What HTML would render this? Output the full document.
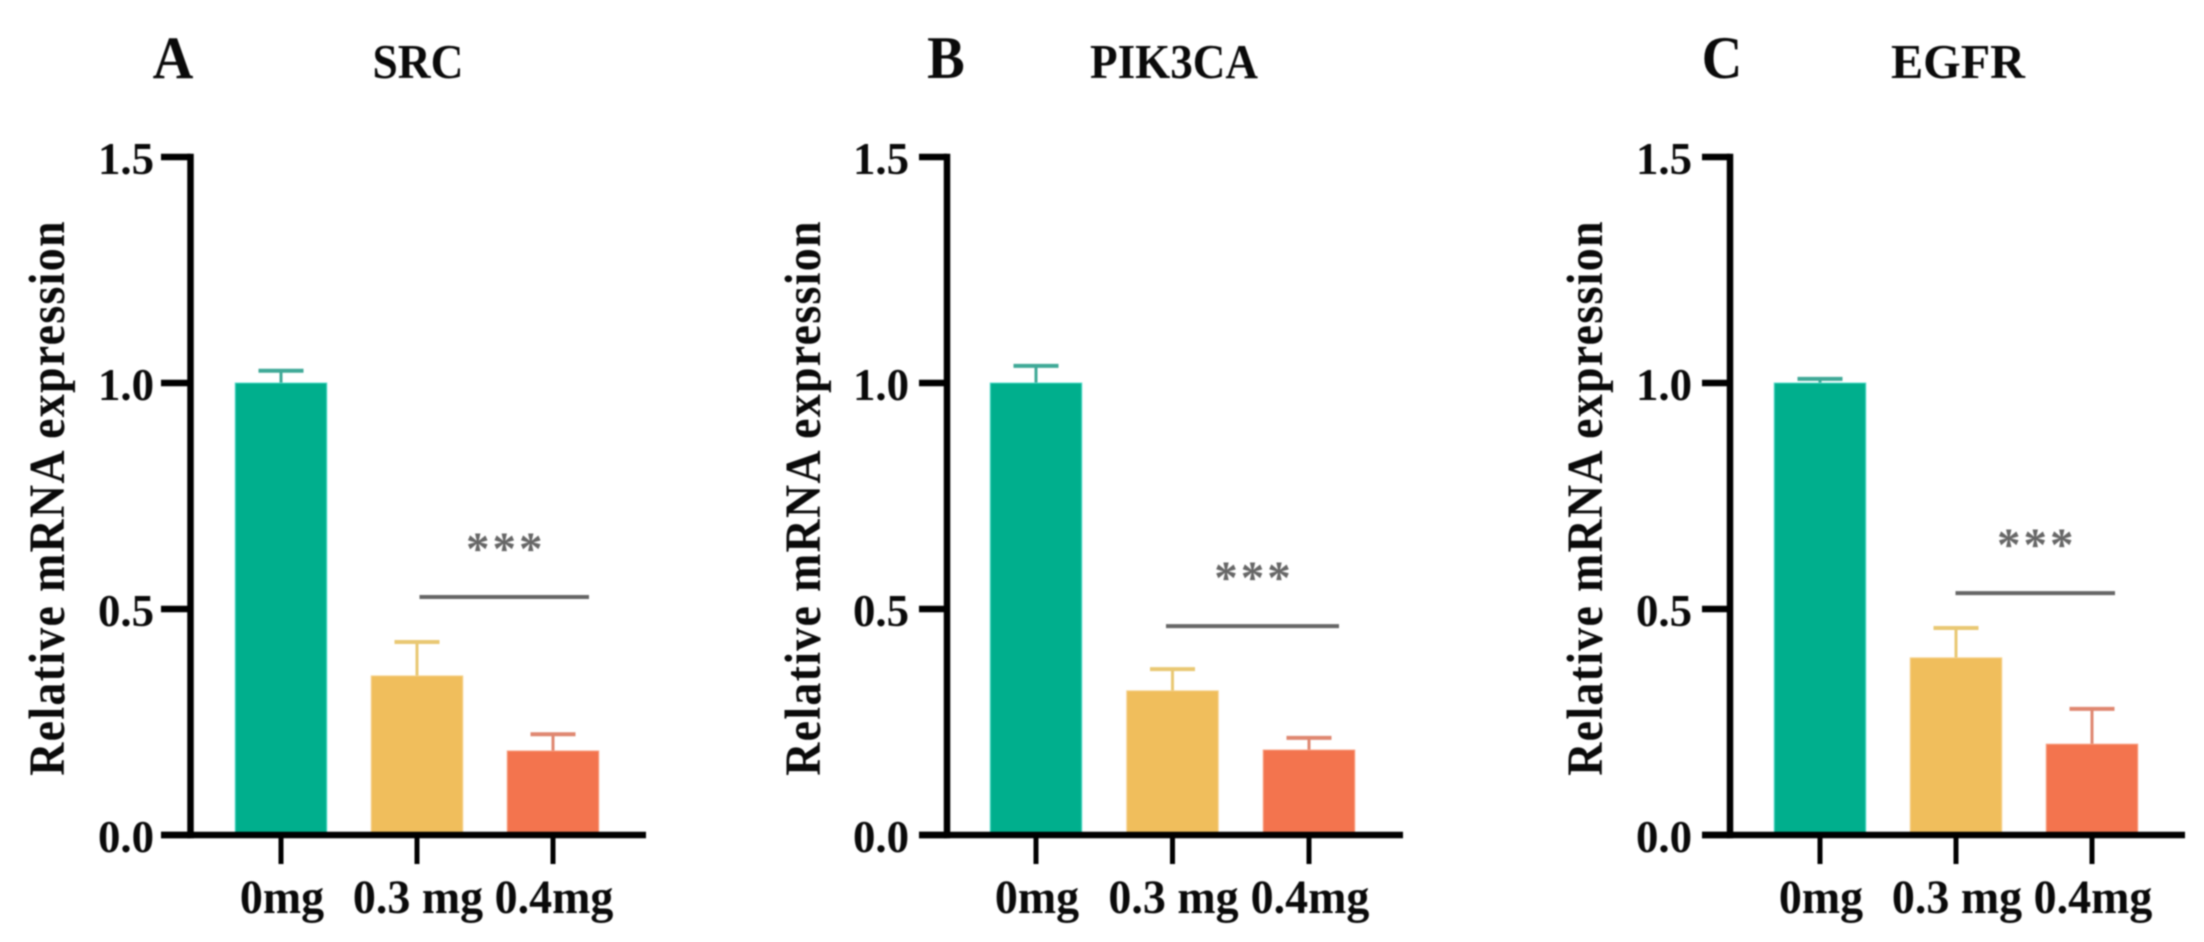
<!DOCTYPE html>
<html lang="en">
<head>
<meta charset="utf-8">
<title>Relative mRNA expression of SRC, PIK3CA and EGFR</title>
<style>
  html, body { margin: 0; padding: 0; background: #fff; }
  body { width: 2204px; height: 942px; overflow: hidden; }
  svg { display: block; filter: blur(0.8px); }
  text { font-family: "Liberation Serif", serif; font-weight: bold; fill: #0a0a0a; }
</style>
</head>
<body>
<svg id="figure" xmlns="http://www.w3.org/2000/svg" width="2204" height="942" viewBox="0 0 2204 942"></svg>
<script>
// ---- Data ----
const categories = ['0mg', '0.3 mg', '0.4mg'];
const tickValues = [0, 0.5, 1.0, 1.5];
const tickLabels = ['0.0', '0.5', '1.0', '1.5'];
const panelLetters = ['A', 'B', 'C'];
const geneNames = ['SRC', 'PIK3CA', 'EGFR'];
const srcMeans = [1.0, 0.352, 0.186];
const srcErrors = [0.027, 0.075, 0.037];
const pik3caMeans = [1.0, 0.319, 0.188];
const pik3caErrors = [0.038, 0.048, 0.027];
const egfrMeans = [1.0, 0.392, 0.201];
const egfrErrors = [0.009, 0.066, 0.078];
const significanceLevels = [0.5265, 0.462, 0.535];
const significanceLabel = '***';
const yAxisTitle = 'Relative mRNA expression';

// ---- Layout ----
const seriesMeans = [srcMeans, pik3caMeans, egfrMeans];
const seriesErrors = [srcErrors, pik3caErrors, egfrErrors];
const layouts = [
  { axisX: 190.5, tickLeft: 161,  axisRight: 646,  first: 281,  step: 136,   letterX: 173,  titleX: 418,  titleWidth: 91,  labelRight: 154,  yTitleX: 64,   sigLeft: 419.5, sigRight: 589 },
  { axisX: 947,   tickLeft: 919,  axisRight: 1403, first: 1036, step: 136.5, letterX: 946,  titleX: 1174, titleWidth: 168, labelRight: 909,  yTitleX: 820,  sigLeft: 1166,  sigRight: 1339 },
  { axisX: 1730,  tickLeft: 1702, axisRight: 2185, first: 1820, step: 136,   letterX: 1722, titleX: 1958, titleWidth: 134, labelRight: 1692, yTitleX: 1602, sigLeft: 1955.5, sigRight: 2115 }
];
const barFills = ['#00AF8D', '#F0BE5C', '#F3744E'];
const barEdges = ['#55DCCB', '#F5D28E', '#F8A386'];
const errorColors = ['#3FA997', '#E9C873', '#DF8770'];
const BASE_Y = 835;
const UNIT_PX = 452;
const BAR_WIDTH = 91.5;
const CAP_WIDTH = 45;
const AXIS_WEIGHT = 6.5;

function yScale(value) { return BASE_Y - value * UNIT_PX; }
function xScale(layout, index) { return layout.first + index * layout.step; }

const svg = document.getElementById('figure');
const NS = 'http://www.w3.org/2000/svg';
function make(tag, attrs, parent, content) {
  const node = document.createElementNS(NS, tag);
  for (const key in attrs) node.setAttribute(key, attrs[key]);
  if (content !== undefined) node.textContent = content;
  parent.appendChild(node);
  return node;
}
function fitWidth(node, width) {
  node.setAttribute('textLength', width);
  node.setAttribute('lengthAdjust', 'spacingAndGlyphs');
}

layouts.forEach(function (layout, p) {
  const gene = geneNames[p].toLowerCase();
  const panel = make('g', {}, svg);
  
  

  const letter = make('text', { x: layout.letterX, y: 78, 'text-anchor': 'middle', 'font-size': 60 }, panel, panelLetters[p]);
  
  
  fitWidth(letter, letter.getComputedTextLength() * 0.94);

  const title = make('text', { x: layout.titleX, y: 78, 'text-anchor': 'middle', 'font-size': 49 }, panel, geneNames[p]);
  
  
  fitWidth(title, layout.titleWidth);

  const yTitle = make('text', {
    x: 0, y: 0, 'text-anchor': 'middle', 'font-size': 51, 'letter-spacing': 1.45,
    transform: 'translate(' + layout.yTitleX + ',498) rotate(-90) scale(0.9,1)'
  }, panel, yAxisTitle);
  
  

  // Bars and error bars
  categories.forEach(function (category, i) {
    const cx = xScale(layout, i);
    const top = yScale(seriesMeans[p][i]);
    const capY = yScale(seriesMeans[p][i] + seriesErrors[p][i]);

    const stem = make('line', { x1: cx, x2: cx, y1: top, y2: capY, stroke: errorColors[i], 'stroke-width': 3 }, panel);
    
    

    const cap = make('line', { x1: cx - CAP_WIDTH / 2, x2: cx + CAP_WIDTH / 2, y1: capY, y2: capY, stroke: errorColors[i], 'stroke-width': 4 }, panel);
    
    

    const bar = make('rect', {
      x: cx - BAR_WIDTH / 2, y: top, width: BAR_WIDTH, height: BASE_Y - top,
      fill: barFills[i], stroke: barEdges[i], 'stroke-width': 1
    }, panel);
    
    
  });

  // Y axis
  const yAxis = make('line', { x1: layout.axisX, x2: layout.axisX, y1: yScale(1.5) - AXIS_WEIGHT / 2, y2: BASE_Y + AXIS_WEIGHT / 2, stroke: '#000', 'stroke-width': AXIS_WEIGHT }, panel);
  
  

  tickValues.forEach(function (value, t) {
    const y = yScale(value);
    const tick = make('line', { x1: layout.tickLeft, x2: layout.axisX, y1: y, y2: y, stroke: '#000', 'stroke-width': AXIS_WEIGHT }, panel);
    
    

    const label = make('text', { x: layout.labelRight, y: y + 17, 'text-anchor': 'end', 'font-size': 46 }, panel, tickLabels[t]);
    
    
    fitWidth(label, label.getComputedTextLength() * 0.975);
  });

  // X axis
  const xAxis = make('line', { x1: layout.tickLeft, x2: layout.axisRight, y1: BASE_Y, y2: BASE_Y, stroke: '#000', 'stroke-width': AXIS_WEIGHT }, panel);
  
  

  categories.forEach(function (category, i) {
    const cx = xScale(layout, i);
    const tick = make('line', { x1: cx, x2: cx, y1: BASE_Y, y2: 864, stroke: '#000', 'stroke-width': 5 }, panel);
    
    

    const label = make('text', { x: cx + 1, y: 913, 'text-anchor': 'middle', 'font-size': 48 }, panel, category);
    
    
    fitWidth(label, label.getComputedTextLength() * 0.957);
  });

  // Significance marker
  const sigY = yScale(significanceLevels[p]);
  const sigLine = make('line', { x1: layout.sigLeft, x2: layout.sigRight, y1: sigY, y2: sigY, stroke: '#666', 'stroke-width': 4 }, panel);
  
  

  const stars = make('text', {
    x: (layout.sigLeft + layout.sigRight) / 2 + 1.5, y: sigY - 33, 'text-anchor': 'middle',
    'font-size': 47, 'letter-spacing': 3, style: 'fill:#666'
  }, panel, significanceLabel);
  
  
});
</script>
</body>
</html>
